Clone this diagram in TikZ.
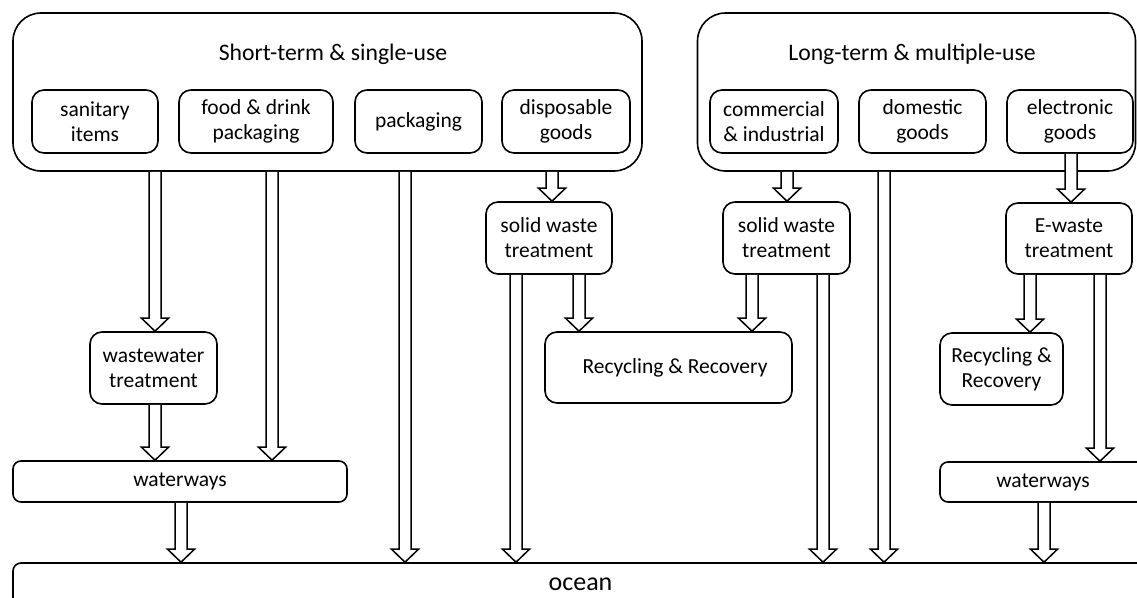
\documentclass[tikz,border=0pt]{standalone}
\usepackage{fontspec}
\setmainfont{Carlito}
\usetikzlibrary{calc}

\tikzset{
  txt/.style={font=\fontsize{21.5}{25}\selectfont, align=center},
  heading/.style={font=\fontsize{23.7}{28}\selectfont},
  group/.style={draw, line width=1.6pt, rounded corners=28pt, inner sep=0pt},
  item/.style={draw, line width=1.6pt, rounded corners=12pt, inner sep=0pt, txt},
  flat/.style={draw, line width=1.6pt, rounded corners=8pt, inner sep=0pt, txt},
  flowarrow/.style={draw, fill=white, line width=1.5pt, line join=miter},
}

% hollow block arrow at horizontal position #1 (pt), from the bottom of #2 to the top of #3
\newcommand\flow[3]{%
  \path[flowarrow] let \p1=(#2.south), \p2=(#3.north) in
    ({#1pt-6pt},\y1) -- ({#1pt-6pt},{\y2+13pt}) -- ({#1pt-13.5pt},{\y2+13pt})
    -- ({#1pt},\y2) -- ({#1pt+13.5pt},{\y2+13pt}) -- ({#1pt+6pt},{\y2+13pt})
    -- ({#1pt+6pt},\y1);
}

\begin{document}
\begin{tikzpicture}[x=1pt,y=-1pt]
\clip (0,0) rectangle (1137,597);
\fill[white] (0,0) rectangle (1137,597);

% product groups
\node[group, minimum width=629pt, minimum height=158pt] (bigL) at (327.5,92) {};
\node[group, minimum width=438pt, minimum height=158pt] (bigR) at (916.5,92) {};
\node[heading, anchor=base] (tL) at (333,60) {Short-term \& single-use};
\node[heading, anchor=base] (tR) at (912,60) {Long-term \& multiple-use};

% product categories
\node[item, minimum width=126pt, minimum height=63pt] (sani) at (95,121.5) {sanitary\\items};
\node[item, minimum width=154pt, minimum height=63pt] (food) at (256,121.5) {food \& drink\\packaging};
\node[item, minimum width=127pt, minimum height=63pt] (pack) at (418.5,121.5) {packaging};
\node[item, minimum width=128pt, minimum height=63pt] (disp) at (566,121.5) {disposable\\goods};
\node[item, minimum width=128pt, minimum height=63pt] (comm) at (774,121.5) {commercial\\\& industrial};
\node[item, minimum width=127pt, minimum height=63pt] (dome) at (922.5,121.5) {domestic\\goods};
\node[item, minimum width=126pt, minimum height=63pt] (elec) at (1070,121.5) {electronic\\goods};

% treatment stages
\node[item, minimum width=127pt, minimum height=72pt] (wwt) at (153.5,368) {wastewater\\treatment};
\node[item, minimum width=126pt, minimum height=72pt] (sw1) at (549,238) {solid waste\\treatment};
\node[item, minimum width=127pt, minimum height=72pt] (sw2) at (786.5,238) {solid waste\\treatment};
\node[item, minimum width=126pt, minimum height=71pt] (ew) at (1069,238.5) {E-waste\\treatment};
\node[item, minimum width=247pt, minimum height=71pt] (rec1) at (668.5,367.5) {\hspace*{13pt}Recycling \& Recovery};
\node[item, minimum width=123pt, minimum height=72pt] (rec2) at (1001.5,369) {Recycling \&\\Recovery};

% waterways and ocean
\node[flat, minimum width=334pt, minimum height=41pt] (wwL) at (180,481.5) {waterways};
\node[flat, minimum width=206pt, minimum height=40pt] (wwR) at (1043,482) {waterways};
\node[flat, minimum width=1135pt, minimum height=48pt] (ocean) at (580.5,587) {};
\node[font=\fontsize{26}{30}\selectfont, inner sep=0pt] (oceanlabel) at (580.5,584) {ocean};

% flows
\flow{155}{bigL}{wwt}
\flow{155}{wwt}{wwL}
\flow{272}{bigL}{wwL}
\flow{181}{wwL}{ocean}
\flow{405}{bigL}{ocean}
\flow{552}{bigL}{sw1}
\flow{516}{sw1}{ocean}
\flow{579}{sw1}{rec1}
\flow{787}{bigR}{sw2}
\flow{752}{sw2}{rec1}
\flow{823}{sw2}{ocean}
\flow{884}{bigR}{ocean}
\flow{1071}{elec}{ew}
\flow{1030}{ew}{rec2}
\flow{1100}{ew}{wwR}
\flow{1044}{wwR}{ocean}
\end{tikzpicture}
\end{document}
